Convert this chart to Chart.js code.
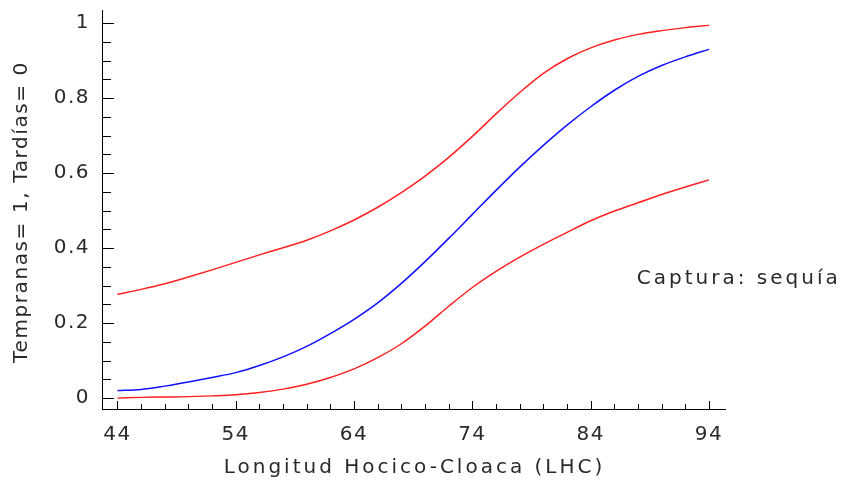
<!DOCTYPE html>
<html>
<head>
<meta charset="utf-8">
<script src="https://cdn.jsdelivr.net/npm/chart.js@4"></script>
<style>
  html, body { margin: 0; padding: 0; background: #fff; }
  #wrap { width: 843px; height: 485px; }
</style>
</head>
<body>
<div id="wrap"><canvas id="chartCanvas"></canvas></div>
<script>
// LHC values (x) and fitted probability with its two confidence bands
const lhc = [44, 46, 48, 50, 52, 54, 56, 58, 60, 62, 64, 66, 68, 70, 72, 74, 76, 78, 80, 82, 84, 86, 88, 90, 92, 94];
const fitted = [0.020, 0.023, 0.032, 0.043, 0.055, 0.068, 0.087, 0.110, 0.138, 0.172, 0.210, 0.254, 0.306, 0.364, 0.426, 0.490, 0.554, 0.616, 0.674, 0.728, 0.777, 0.821, 0.858, 0.887, 0.910, 0.930];
const upperBand = [0.277, 0.290, 0.305, 0.323, 0.342, 0.362, 0.382, 0.401, 0.421, 0.446, 0.475, 0.509, 0.548, 0.592, 0.642, 0.698, 0.758, 0.815, 0.866, 0.905, 0.934, 0.955, 0.970, 0.980, 0.988, 0.994];
const lowerBand = [0.000, 0.002, 0.003, 0.004, 0.006, 0.009, 0.015, 0.024, 0.037, 0.055, 0.078, 0.108, 0.145, 0.192, 0.245, 0.295, 0.338, 0.376, 0.410, 0.442, 0.473, 0.499, 0.521, 0.543, 0.563, 0.582];

const xTickValues = [44, 54, 64, 74, 84, 94];
const yTickValues = [0, 0.2, 0.4, 0.6, 0.8, 1];

const xTitle = "Longitud Hocico-Cloaca (LHC)";
const yTitle = "Tempranas= 1, Tardías= 0";
const note = "Captura: sequía";

const FONT = "'DejaVu Sans', sans-serif";
const TEXT = "#2a2a2a";

function toPoints(arr) {
    return lhc.map((x, i) => ({ x: x, y: arr[i] }));
}

// slightly wider tick labels, closer to the original's font
const spacing = {
    id: "spacing",
    beforeDraw(chart) {
        chart.ctx.letterSpacing = "1.5px";
    }
};

// Inward tick marks (major + minor), axis titles and the side note
const axisDecor = {
    id: "axisDecor",
    afterDraw(chart) {
        const { ctx, scales: { x, y }, chartArea } = chart;
        ctx.save();
        ctx.strokeStyle = "#000";
        ctx.lineWidth = 1;
        ctx.beginPath();
        for (let v = 44; v <= 94; v += 2) {
            const px = Math.round(x.getPixelForValue(v)) + 0.5;
            const len = (v - 44) % 10 === 0 ? 8 : 5;
            ctx.moveTo(px, chartArea.bottom);
            ctx.lineTo(px, chartArea.bottom - len);
        }
        for (let k = 0; k <= 20; k++) {
            const py = Math.round(y.getPixelForValue(k * 0.05)) + 0.5;
            const len = k % 4 === 0 ? 12 : 9;
            ctx.moveTo(chartArea.left, py);
            ctx.lineTo(chartArea.left + len, py);
        }
        ctx.stroke();

        ctx.fillStyle = TEXT;
        ctx.font = "20px " + FONT;
        ctx.textBaseline = "middle";

        ctx.letterSpacing = "3px";
        ctx.textAlign = "left";
        ctx.fillText(note, x.getPixelForValue(87.9), y.getPixelForValue(0.317));

        ctx.textAlign = "center";
        ctx.fillText(xTitle, (chartArea.left + chartArea.right) / 2 + 1, 468);

        ctx.letterSpacing = "1.6px";
        ctx.translate(22, 212);
        ctx.rotate(-Math.PI / 2);
        ctx.fillText(yTitle, 0, 0);
        ctx.restore();
    }
};

new Chart(document.getElementById("chartCanvas"), {
    type: "line",
    data: {
        datasets: [
            {
                label: "Límite superior",
                data: toPoints(upperBand),
                borderColor: "#ff2020",
                borderWidth: 1.5,
                pointRadius: 0,
                cubicInterpolationMode: "monotone"
            },
            {
                label: "Ajuste",
                data: toPoints(fitted),
                borderColor: "#1010ff",
                borderWidth: 1.5,
                pointRadius: 0,
                cubicInterpolationMode: "monotone"
            },
            {
                label: "Límite inferior",
                data: toPoints(lowerBand),
                borderColor: "#ff2020",
                borderWidth: 1.5,
                pointRadius: 0,
                cubicInterpolationMode: "monotone"
            }
        ]
    },
    options: {
        responsive: true,
        maintainAspectRatio: false,
        animation: false,
        layout: {
            padding: { top: 10, right: 118, bottom: 0, left: 0 }
        },
        plugins: {
            legend: { display: false },
            tooltip: { enabled: false }
        },
        scales: {
            x: {
                type: "linear",
                min: 42.7,
                max: 95.35,
                afterBuildTicks: s => { s.ticks = xTickValues.map(v => ({ value: v })); },
                afterFit: s => { s.height = 76; s.paddingLeft = 0; s.paddingRight = 0; },
                grid: { display: false, drawTicks: false },
                border: { display: true, color: "#000", width: 1 },
                ticks: {
                    padding: 14,
                    color: TEXT,
                    font: { family: FONT, size: 20 },
                    maxRotation: 0
                }
            },
            y: {
                type: "linear",
                min: -0.029,
                max: 1.035,
                afterBuildTicks: s => { s.ticks = yTickValues.map(v => ({ value: v })); },
                afterFit: s => { s.width = 102; s.paddingTop = 0; s.paddingBottom = 0; },
                grid: { display: false, drawTicks: false },
                border: { display: true, color: "#000", width: 1 },
                ticks: {
                    padding: 12,
                    color: TEXT,
                    font: { family: FONT, size: 20 },
                    callback: v => String(Math.round(v * 10) / 10)
                }
            }
        }
    },
    plugins: [spacing, axisDecor]
});
</script>
</body>
</html>
